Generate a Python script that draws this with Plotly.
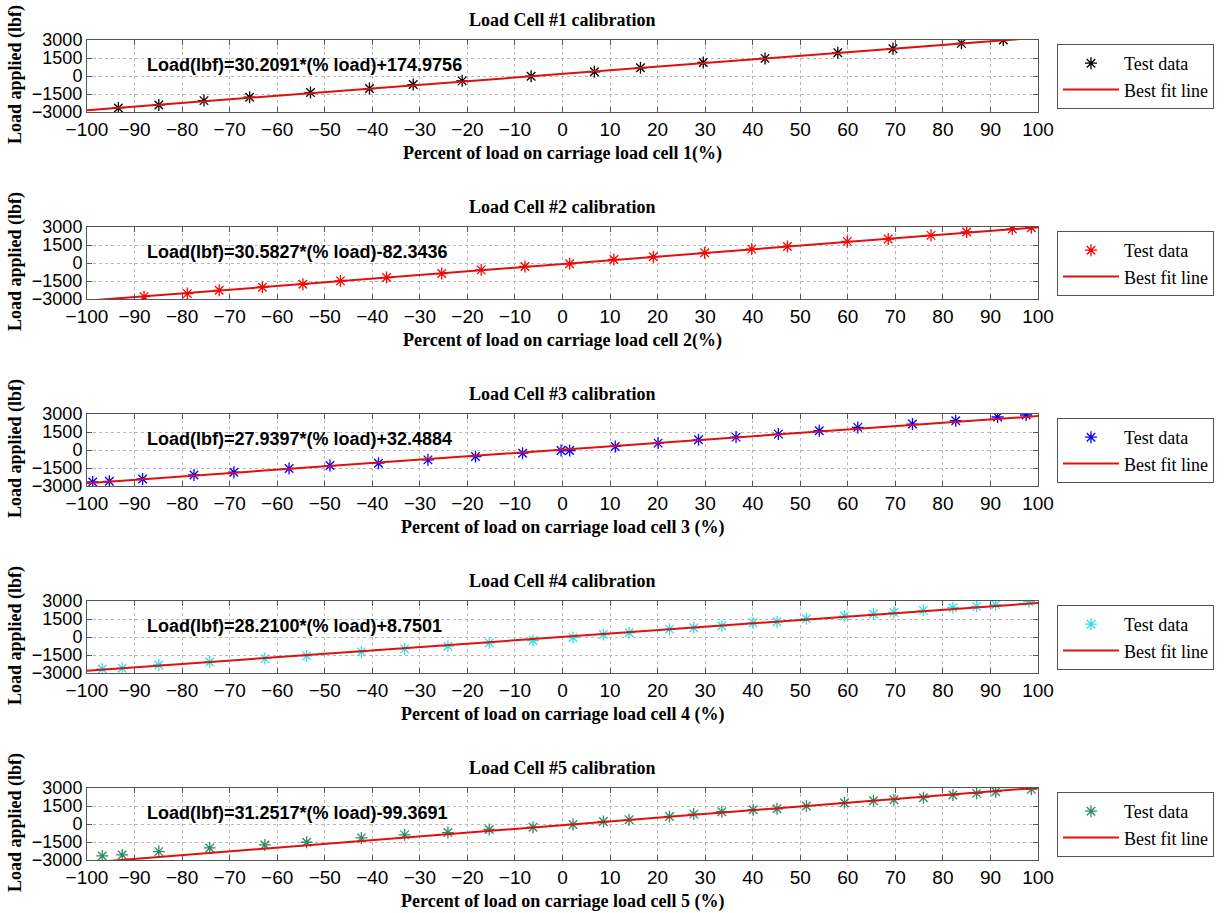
import plotly.graph_objects as go
import numpy as np

# ---------------- data ----------------
x1 = [-93.4, -84.9, -75.4, -65.8, -53.0, -40.6, -31.4, -21.1, -6.6, 6.7, 16.4, 29.6, 42.6, 57.9, 69.5, 83.9, 92.7]
y1 = [-2664, -2413, -2050, -1771, -1380, -1046, -711, -404, -15, 350, 684, 1131, 1466, 1940, 2275, 2721, 3000]

x2 = [-88.0, -78.9, -72.2, -63.1, -54.6, -46.7, -37.0, -25.4, -17.1, -7.9,
      1.5, 10.8, 19.1, 29.9, 39.8, 47.3, 59.9, 68.5, 77.5, 85.0, 94.6, 98.6]
y2 = [-2803, -2552, -2273, -2022, -1771, -1492, -1213, -878, -571, -292,
      -69, 294, 517, 852, 1159, 1382, 1800, 1996, 2303, 2582, 2833, 2944]

x3 = [-98.8, -95.3, -88.3, -77.5, -69.1, -57.5, -48.9, -38.7, -28.3, -18.3, -8.4,
      -0.3, 1.5, 11.1, 20.1, 28.6, 36.5, 45.4, 54.0, 62.1, 73.6, 82.7, 91.5, 97.5]
y3 = [-2664, -2608, -2413, -2078, -1855, -1548, -1297, -1101, -822, -543, -264,
      -41, -41, 294, 573, 852, 1075, 1326, 1605, 1884, 2163, 2442, 2749, 2916]

x4 = [-96.8, -92.6, -84.9, -74.2, -62.6, -53.8, -42.3, -33.2, -24.1, -15.4, -6.2,
      2.2, 8.6, 14.0, 22.5, 27.6, 33.5, 40.1, 45.1, 51.3, 59.3, 65.4, 69.7, 75.9, 82.1, 87.1, 91.1, 98.1]
y4 = [-2664, -2608, -2329, -2078, -1799, -1576, -1241, -990, -767, -488, -292,
      -41, 210, 350, 656, 768, 935, 1186, 1270, 1521, 1745, 1912, 2051, 2219, 2442, 2554, 2693, 2944]

x5 = [-96.8, -92.6, -84.9, -74.2, -62.6, -53.8, -42.3, -33.2, -24.1, -15.4, -6.2,
      2.2, 8.6, 14.0, 22.5, 27.6, 33.5, 40.1, 45.1, 51.3, 59.3, 65.4, 69.7, 75.9, 82.1, 87.1, 91.1, 98.6]
y5 = [-2664, -2580, -2301, -1994, -1743, -1520, -1157, -906, -711, -460, -264,
      -41, 210, 350, 629, 824, 1019, 1186, 1270, 1493, 1772, 1940, 2023, 2191, 2414, 2554, 2693, 2888]

slopes = [30.2091, 30.5827, 27.9397, 28.2100, 31.2517]
intercepts = [174.9756, -82.3436, 32.4884, 8.7501, -99.3691]

titles = ["Load Cell #1 calibration", "Load Cell #2 calibration", "Load Cell #3 calibration",
          "Load Cell #4 calibration", "Load Cell #5 calibration"]
xtitles = ["Percent of load on carriage load cell 1(%)", "Percent of load on carriage load cell 2(%)",
           "Percent of load on carriage load cell 3 (%)", "Percent of load on carriage load cell 4 (%)",
           "Percent of load on carriage load cell 5 (%)"]
ytitle = "Load applied (lbf)"
xticks = list(range(-100, 101, 10))
yticks = [-3000, -1500, 0, 1500, 3000]
legend_names = ["Test data", "Best fit line"]
colors = ["black", "red", "blue", "#30e0e0", "#2e8b62"]

xs = [x1, x2, x3, x4, x5]
ys = [y1, y2, y3, y4, y5]

# ---------------- layout helpers ----------------
W, H = 1225, 913
L, R, T, B = 87, 1039, 40, 860
def px(x):
    return (x - L) / (R - L)
def py(y):
    return (B - y) / (B - T)

SERIF = "Liberation Serif"
SANS = "Liberation Sans"

fig = go.Figure()
annotations = []
layout_extra = {}
for i in range(5):
    top = 40 + 187 * i
    bot = top + 72
    ax = "" if i == 0 else str(i + 1)
    lg = "legend" if i == 0 else f"legend{i + 1}"
    fig.add_trace(go.Scatter(
        x=xs[i], y=ys[i], mode="markers", name=legend_names[0],
        marker=dict(symbol="asterisk-open", size=10, color=colors[i],
                    line=dict(color=colors[i], width=1.3)),
        xaxis="x" + ax, yaxis="y" + ax, legend=lg))
    xl = np.array([-100, 100])
    fig.add_trace(go.Scatter(
        x=xl, y=slopes[i] * xl + intercepts[i], mode="lines", name=legend_names[1],
        line=dict(color="#e01010", width=2),
        xaxis="x" + ax, yaxis="y" + ax, legend=lg))
    common = dict(showgrid=True, gridcolor="#b8b8b8", griddash="dot", gridwidth=1,
                  showline=True, linecolor="#555", linewidth=1, mirror="allticks",
                  ticks="inside", ticklen=5, tickcolor="#555", zeroline=False)
    layout_extra["xaxis" + ax] = dict(common, domain=[0, 1], range=[-100, 100],
                                      tickvals=xticks, anchor="y" + ax,
                                      tickfont=dict(family=SANS, size=19, color="black"))
    layout_extra["yaxis" + ax] = dict(common, domain=[py(bot), py(top)], range=[-3000, 3000],
                                      tickvals=yticks, anchor="x" + ax,
                                      tickfont=dict(family=SANS, size=18, color="black"))
    layout_extra[lg] = dict(x=px(1057), y=py(top + 4), xanchor="left", yanchor="top",
                            bordercolor="#555", borderwidth=1, bgcolor="white",
                            itemwidth=56, font=dict(family=SERIF, size=18, color="black"),
                            tracegroupgap=0)
    annotations.append(dict(text=f"<b>{titles[i]}</b>", x=px(563), y=py(top - 20),
                            xref="paper", yref="paper", showarrow=False,
                            xanchor="center", yanchor="middle",
                            font=dict(family=SERIF, size=18, color="black")))
    annotations.append(dict(text=f"<b>{xtitles[i]}</b>", x=px(563), y=py(bot + 41),
                            xref="paper", yref="paper", showarrow=False,
                            xanchor="center", yanchor="middle",
                            font=dict(family=SERIF, size=18, color="black")))
    annotations.append(dict(text=f"<b>{ytitle}</b>", x=px(15), y=py(top + 35),
                            xref="paper", yref="paper", showarrow=False, textangle=-90,
                            xanchor="center", yanchor="middle",
                            font=dict(family=SERIF, size=18, color="black")))
    eq = f"Load(lbf)={slopes[i]:.4f}*(% load){intercepts[i]:+.4f}"
    annotations.append(dict(text=f"<b>{eq}</b>", x=px(145), y=py(top + 25),
                            xref="paper", yref="paper", showarrow=False,
                            xanchor="left", yanchor="middle",
                            font=dict(family=SANS, size=18, color="black")))

fig.update_layout(width=W, height=H, margin=dict(l=L, r=W - R, t=T, b=H - B),
                  plot_bgcolor="white", paper_bgcolor="white",
                  annotations=annotations, showlegend=True, **layout_extra)
fig.write_html("out.html")
